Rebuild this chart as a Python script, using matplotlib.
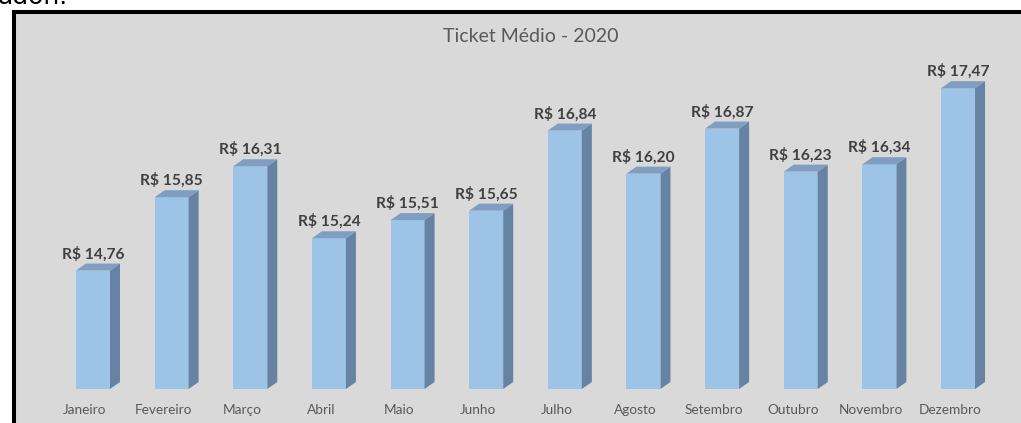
import matplotlib
matplotlib.use("Agg")
import matplotlib.pyplot as plt
from matplotlib.patches import Rectangle, Polygon

months = ["Janeiro", "Fevereiro", "Março", "Abril", "Maio", "Junho",
          "Julho", "Agosto", "Setembro", "Outubro", "Novembro", "Dezembro"]
ticket = [14.76, 15.85, 16.31, 15.24, 15.51, 15.65,
          16.84, 16.20, 16.87, 16.23, 16.34, 17.47]
title = "Ticket Médio - 2020"

FRONT = "#9dc3e6"
SIDE = "#6683a3"
TOP = "#7f9ec2"
BG = "#d9d9d9"

W, H = 1021, 423
fig = plt.figure(figsize=(W / 100, H / 100), dpi=100)
fig.patch.set_facecolor("white")

# chart panel with heavy black frame, kept behind the axes
fig.patches.append(Rectangle((14 / W, -0.1), 1.2, (H - 12) / H + 0.1,
                             transform=fig.transFigure, facecolor=BG,
                             edgecolor="black", linewidth=2.9, zorder=-5))
fig.text(-2 / W, 1 - 4 / H, "adon.", fontsize=18, family="DejaVu Sans",
         color="black", ha="left", va="baseline")

ax = fig.add_axes([0, 0, 1, 1])
ax.set_facecolor("none")
ax.axis("off")

# axis scaling: category spacing and value baseline
x_step, x0 = 78.64, 93.0
y_scale, base, y_base_px = 67.3, 13.0, 389.0
ax.set_xlim(-x0 / x_step, (W - x0) / x_step)
ax.set_ylim(base - (H - y_base_px) / y_scale, base + y_base_px / y_scale)

bw = 34 / x_step
dx = 10 / x_step
dy = 7 / y_scale
font = ["Lato", "DejaVu Sans"]

for i, (m, v) in enumerate(zip(months, ticket)):
    l, r = i - bw / 2, i + bw / 2
    ax.bar(i, v - base, bottom=base, width=bw, color=FRONT, edgecolor="none", zorder=2)
    ax.add_patch(Polygon([(r, base), (r + dx, base + dy), (r + dx, v + dy), (r, v)],
                         closed=True, facecolor=SIDE, edgecolor="none", zorder=2))
    ax.add_patch(Polygon([(l, v), (r, v), (r + dx, v + dy), (l + dx, v + dy)],
                         closed=True, facecolor=TOP, edgecolor="none", zorder=2))
    label = "R$ " + f"{v:.2f}".replace(".", ",")
    ax.text(i, v + dy + 2 / y_scale, label, ha="center", va="bottom",
            fontsize=11.2, fontweight="bold", color="#404040", family=font, zorder=3)
    ax.text(i - 8 / x_step, base - 21 / y_scale, m, ha="center", va="center",
            fontsize=9.8, color="#595959", family=font, zorder=3)

fig.text(531 / W, 1 - 36 / H, title, ha="center", va="center",
         fontsize=14, color="#595959", family=font)

fig.savefig("out.png", dpi=100, facecolor=fig.get_facecolor())
